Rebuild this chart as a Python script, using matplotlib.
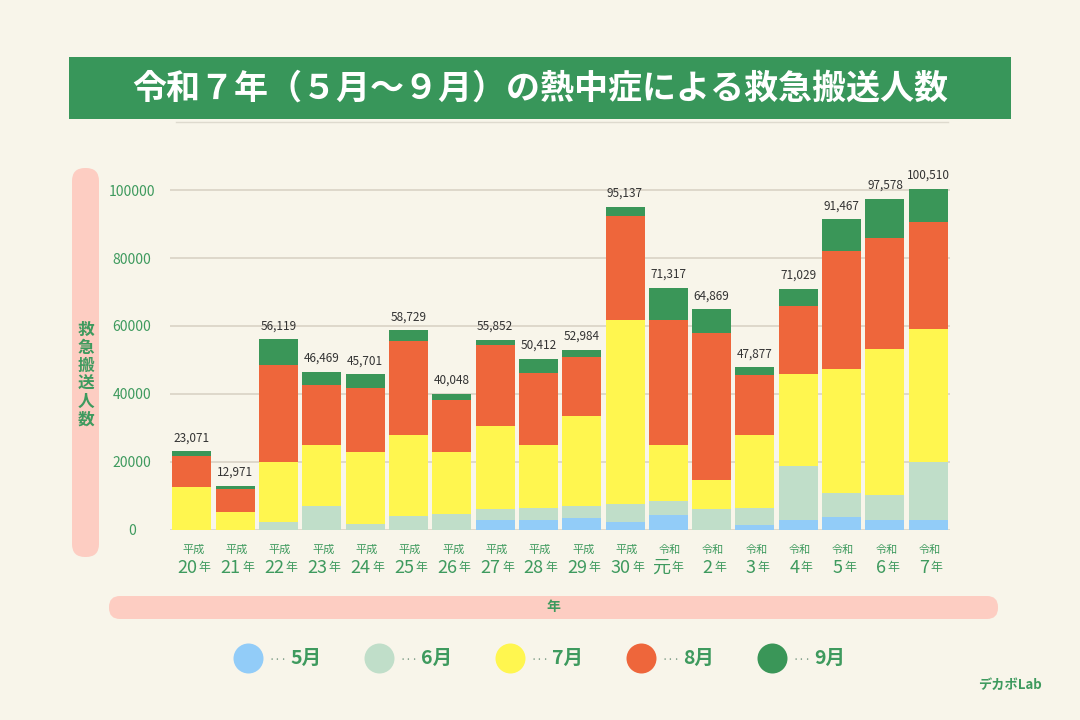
import matplotlib.pyplot as plt
import numpy as np
from matplotlib.patches import FancyBboxPatch, Rectangle

plt.rcParams['font.family'] = ['Noto Sans CJK JP', 'DejaVu Sans']

# data
eras = ['平成'] * 11 + ['令和'] * 7
years = ['20', '21', '22', '23', '24', '25', '26', '27', '28', '29', '30',
         '元', '2', '3', '4', '5', '6', '7']
may = [0, 0, 0, 0, 0, 0, 0, 2904, 2788, 3401, 2260, 4230, 0, 1470, 2668, 3647, 2799, 2750]
jun = [0, 0, 2160, 6880, 1570, 4030, 4520, 3032, 3421, 3481, 5210, 4130, 6190, 4920, 15969, 7031, 7275, 17110]
jul = [12580, 5110, 17790, 17990, 21330, 23790, 18380, 24567, 18671, 26702, 54260, 16510, 8360, 21430, 27190, 36549, 43195, 39320]
aug = [8950, 6690, 28510, 17690, 18680, 27720, 15240, 23925, 21373, 17302, 30670, 36860, 43250, 17690, 20029, 34835, 32806, 31550]
sep = [1541, 1171, 7659, 3909, 4121, 3189, 1908, 1424, 4159, 2098, 2737, 9587, 7069, 2367, 5173, 9405, 11503, 9780]
totals = [23071, 12971, 56119, 46469, 45701, 58729, 40048, 55852, 50412, 52984,
          95137, 71317, 64869, 47877, 71029, 91467, 97578, 100510]
months = ['5月', '6月', '7月', '8月', '9月']
colors = ['#92CCF8', '#C0DEC9', '#FFF64F', '#EE663B', '#3A9658']

BG = '#F8F5EA'
GREEN = '#3E9A5E'
PINK = '#FDCDC2'
PX = 72 / 100  # pixels -> points

W, H = 1080, 720
fig = plt.figure(figsize=(10.8, 7.2), dpi=100)
fig.patch.set_facecolor(BG)

# decoration layer in pixel coordinates
deco = fig.add_axes([0, 0, 1, 1])
deco.set_xlim(0, W)
deco.set_ylim(H, 0)
deco.axis('off')

deco.add_patch(Rectangle((69, 57), 942, 62, color='#38965A', lw=0))
deco.text(540, 88, '令和７年（５月～９月）の熱中症による救急搬送人数', color='white',
          fontsize=24.5, fontweight='bold', ha='center', va='center')
deco.plot([176, 948], [122, 122], color='#DEDACE', lw=1)

deco.add_patch(FancyBboxPatch((72, 168), 27, 389, boxstyle='round,pad=0,rounding_size=13',
                              fc=PINK, ec='none'))
deco.text(86, 375, '\n'.join('救急搬送人数'), color=GREEN, fontsize=12, fontweight='bold',
          ha='center', va='center', linespacing=1.0)
deco.add_patch(FancyBboxPatch((109, 596), 889, 23, boxstyle='round,pad=0,rounding_size=11',
                              fc=PINK, ec='none'))
deco.text(553, 607, '年', color=GREEN, fontsize=10, fontweight='bold', ha='center', va='center')

# legend
for k, (m, c) in enumerate(zip(months, colors)):
    cx = 248 + 131 * k
    deco.scatter([cx], [658], s=(30 * PX) ** 2, color=c, lw=0)
    deco.text(cx + 21, 660, '···', color='#7A9A84', fontsize=8, ha='left', va='center')
    deco.text(cx + 42, 658, m, color=GREEN, fontsize=14, fontweight='bold', ha='left', va='center')

deco.text(1010, 685, 'デカボLab', color=GREEN, fontsize=9.5, fontweight='bold', ha='center', va='center')

# chart
ax = fig.add_axes([170 / W, (H - 529.5) / H, 780 / W, 339.2 * 1.08 / H])
ax.set_facecolor('none')
x = np.arange(len(years))
bottom = np.zeros(len(years))
for vals, c in zip([may, jun, jul, aug, sep], colors):
    ax.bar(x, vals, 0.9, bottom=bottom, color=c, lw=0, zorder=2)
    bottom += np.array(vals)

for i, t in enumerate(totals):
    ax.annotate(f'{t:,}', (i, t), xytext=(0, 5), textcoords='offset points',
                ha='center', va='bottom', fontsize=8.5, color='#333333')

ax.set_xlim(-0.5, len(years) - 0.5)
ax.set_ylim(0, 108000)
ax.set_yticks(range(0, 100001, 20000))
ax.set_yticklabels([str(v) for v in range(0, 100001, 20000)])
for lab in ax.get_yticklabels():
    lab.set_ha('center')
ax.tick_params(axis='y', length=0, pad=38 * PX, labelsize=10, labelcolor=GREEN)
ax.set_xticks([])
ax.yaxis.grid(True, color='#D9D3C5', lw=1.2)
ax.set_axisbelow(True)
for s in ax.spines.values():
    s.set_visible(False)

# two-line year labels
for i, (e, y) in enumerate(zip(eras, years)):
    ax.annotate(e, (i, 0), xycoords=('data', 'axes fraction'), xytext=(1.5 * PX, -20.5 * PX),
                textcoords='offset points', ha='center', va='center', fontsize=8, color=GREEN)
    off = 2 if y == '元' else 1 + 4.5 * (len(y) - 1)
    ax.annotate(y, (i, 0), xycoords=('data', 'axes fraction'), xytext=(off * PX, -38.5 * PX),
                textcoords='offset points', ha='right', va='center', fontsize=13, color=GREEN)
    ax.annotate('年', (i, 0), xycoords=('data', 'axes fraction'), xytext=((off + 1.5) * PX, -38.5 * PX),
                textcoords='offset points', ha='left', va='center', fontsize=8.6, color=GREEN)

fig.savefig('out.png', dpi=100, facecolor=BG)
